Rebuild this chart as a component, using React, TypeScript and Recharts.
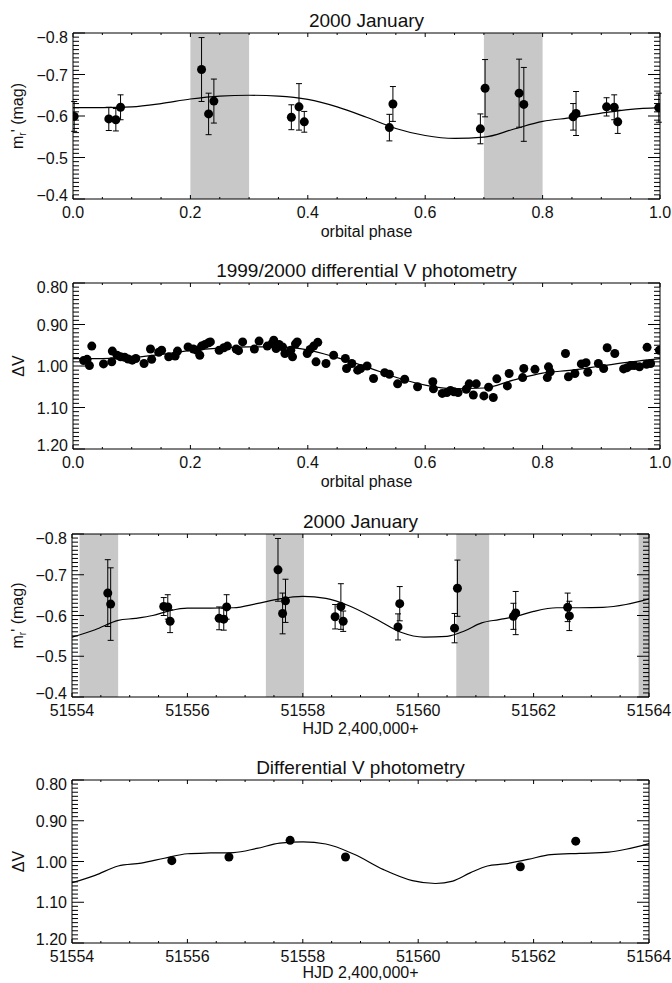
import React from 'react';
import { ComposedChart, Scatter, Line, XAxis, YAxis, ReferenceArea, ErrorBar } from 'recharts';

const FONT = '"Liberation Sans", Arial, Helvetica, sans-serif';
const INK = '#111';
const BAND = '#c8c8c8';

// ---- 2000 January r' photometry (same nights, by phase and by HJD) ----
const obsHjd = [51554.62, 51554.67, 51555.59, 51555.66, 51555.7, 51556.55, 51556.63, 51556.68, 51557.57, 51557.65, 51557.7, 51558.56, 51558.66, 51558.7, 51559.65, 51559.68, 51560.63, 51560.68, 51561.65, 51561.69, 51562.59, 51562.62];
const obsPhase = [0.76, 0.768, 0.909, 0.922, 0.928, 0.061, 0.073, 0.081, 0.219, 0.231, 0.24, 0.372, 0.385, 0.394, 0.539, 0.545, 0.694, 0.702, 0.852, 0.857, 0.998, 0.002];
const obsMag = [-0.655, -0.628, -0.622, -0.621, -0.586, -0.593, -0.591, -0.621, -0.712, -0.605, -0.636, -0.597, -0.622, -0.586, -0.572, -0.629, -0.569, -0.667, -0.598, -0.606, -0.62, -0.599];
const obsErr = [0.082, 0.089, 0.022, 0.03, 0.028, 0.028, 0.027, 0.03, 0.077, 0.05, 0.053, 0.03, 0.056, 0.025, 0.032, 0.042, 0.036, 0.069, 0.032, 0.053, 0.035, 0.036];

// model curve, folded on phase
const fitPhase = [0, 0.05, 0.1, 0.15, 0.2, 0.25, 0.3, 0.35, 0.4, 0.45, 0.5, 0.55, 0.6, 0.65, 0.7, 0.75, 0.8, 0.85, 0.9, 0.95, 1.0];
const fitPhaseMag = [-0.62, -0.62, -0.622, -0.63, -0.641, -0.648, -0.65, -0.648, -0.64, -0.622, -0.597, -0.57, -0.553, -0.546, -0.549, -0.568, -0.587, -0.596, -0.607, -0.616, -0.62];

// model curve against HJD
const fitHjd = [51554.0, 51554.4, 51554.8, 51555.1, 51555.4, 51555.7, 51556.0, 51556.4, 51556.8, 51557.2, 51557.6, 51558.0, 51558.4, 51558.8, 51559.3, 51559.7, 51560.1, 51560.5, 51560.8, 51561.1, 51561.4, 51561.7, 51562.0, 51562.4, 51562.8, 51563.2, 51563.6, 51564.0];
const fitHjdMag = [-0.547, -0.565, -0.588, -0.593, -0.6, -0.612, -0.618, -0.618, -0.619, -0.629, -0.641, -0.647, -0.642, -0.624, -0.589, -0.559, -0.547, -0.549, -0.562, -0.582, -0.59, -0.598, -0.61, -0.619, -0.619, -0.62, -0.627, -0.641];

// ---- 1999/2000 differential V, folded ----
const vPhase = [0.018, 0.024, 0.028, 0.032, 0.052, 0.066, 0.067, 0.075, 0.081, 0.088, 0.094, 0.101, 0.107, 0.121, 0.132, 0.134, 0.146, 0.151, 0.163, 0.174, 0.178, 0.196, 0.205, 0.211, 0.216, 0.219, 0.225, 0.231, 0.234, 0.249, 0.257, 0.263, 0.278, 0.282, 0.289, 0.309, 0.317, 0.331, 0.339, 0.342, 0.346, 0.351, 0.357, 0.361, 0.371, 0.374, 0.379, 0.382, 0.399, 0.404, 0.41, 0.414, 0.417, 0.431, 0.444, 0.464, 0.466, 0.475, 0.485, 0.49, 0.501, 0.512, 0.531, 0.539, 0.553, 0.565, 0.587, 0.613, 0.614, 0.629, 0.637, 0.643, 0.649, 0.656, 0.67, 0.675, 0.682, 0.687, 0.7, 0.708, 0.716, 0.722, 0.74, 0.743, 0.766, 0.768, 0.787, 0.808, 0.81, 0.813, 0.839, 0.844, 0.855, 0.866, 0.874, 0.877, 0.895, 0.904, 0.91, 0.923, 0.938, 0.944, 0.95, 0.956, 0.965, 0.977, 0.978, 0.984, 0.999];
const vDelta = [0.987, 0.984, 0.999, 0.952, 0.995, 0.99, 0.964, 0.974, 0.978, 0.979, 0.983, 0.986, 0.982, 0.994, 0.959, 0.984, 0.967, 0.962, 0.978, 0.976, 0.964, 0.954, 0.959, 0.962, 0.974, 0.952, 0.948, 0.944, 0.942, 0.962, 0.956, 0.952, 0.959, 0.963, 0.942, 0.959, 0.94, 0.952, 0.946, 0.938, 0.958, 0.948, 0.954, 0.97, 0.962, 0.978, 0.947, 0.942, 0.97, 0.96, 0.952, 0.99, 0.943, 0.994, 0.974, 0.982, 1.006, 0.994, 1.01, 1.006, 1.0, 1.03, 1.016, 1.02, 1.043, 1.032, 1.05, 1.038, 1.055, 1.066, 1.064, 1.059, 1.062, 1.064, 1.056, 1.043, 1.07, 1.043, 1.072, 1.051, 1.076, 1.031, 1.048, 1.018, 1.028, 1.006, 1.008, 1.028, 1.002, 1.014, 0.97, 1.026, 1.018, 0.995, 0.992, 1.015, 0.994, 1.006, 0.956, 0.97, 1.007, 1.004, 0.999, 0.999, 1.002, 0.996, 0.955, 0.994, 0.962];
const vFitPhase = [0, 0.05, 0.1, 0.15, 0.2, 0.25, 0.3, 0.35, 0.4, 0.45, 0.5, 0.55, 0.6, 0.65, 0.7, 0.75, 0.8, 0.85, 0.9, 0.95, 1.0];
const vFitDelta = [0.982, 0.982, 0.98, 0.972, 0.963, 0.957, 0.954, 0.954, 0.961, 0.98, 1.002, 1.027, 1.046, 1.055, 1.053, 1.034, 1.017, 1.01, 1.0, 0.99, 0.982];

// ---- differential V against HJD ----
const vHjd = [51555.73, 51556.72, 51557.78, 51558.74, 51561.77, 51562.73];
const vHjdDelta = [0.998, 0.989, 0.948, 0.989, 1.013, 0.95];
const vFitHjd = [51554.0, 51554.4, 51554.8, 51555.2, 51555.6, 51556.0, 51556.4, 51556.8, 51557.2, 51557.6, 51558.0, 51558.4, 51558.9, 51559.4, 51559.9, 51560.3, 51560.6, 51560.9, 51561.2, 51561.5, 51561.9, 51562.3, 51562.8, 51563.3, 51563.6, 51564.0];
const vFitHjdDelta = [1.052, 1.034, 1.011, 1.004, 0.992, 0.981, 0.979, 0.978, 0.968, 0.955, 0.952, 0.957, 0.983, 1.02, 1.047, 1.054, 1.048, 1.028, 1.011, 1.006, 0.995, 0.983, 0.98, 0.977, 0.97, 0.956];

// shaded phase ranges
const phaseBands: [number, number][] = [[0.2, 0.3], [0.7, 0.8]];
const hjdBands: [number, number][] = [[51554.13, 51554.8], [51557.36, 51558.02], [51560.66, 51561.23], [51563.82, 51564.0]];

// tick labels
const phaseTicks = [0, 0.2, 0.4, 0.6, 0.8, 1.0];
const hjdTicks = [51554, 51556, 51558, 51560, 51562, 51564];
const magTicks = [-0.8, -0.7, -0.6, -0.5, -0.4];
const dvTicks = [0.8, 0.9, 1.0, 1.1, 1.2];

const zip = (xs: number[], ys: number[], es?: number[]) =>
    xs.map((x, i) => (es ? { x, y: ys[i], err: es[i] } : { x, y: ys[i] }));

const steps = (min: number, max: number, step: number) => {
    const n = Math.round((max - min) / step);
    const out: number[] = [];
    for (let i = 0; i <= n; i++) out.push(Math.round((min + i * step) * 1e6) / 1e6);
    return out;
};

type Side = 'bottom' | 'top' | 'left' | 'right';

function makeTick(side: Side, majors: number[], fmt: ((v: number) => string) | null, domain: [number, number]) {
    const vertical = side === 'left' || side === 'right';
    const majorLen = vertical ? 12 : 4;
    const minorLen = vertical ? 6 : 2;
    return (props: any) => {
        const { x, y, payload } = props;
        const v = payload.value as number;
        const major = majors.some((m) => Math.abs(m - v) < 1e-6);
        const len = major ? majorLen : minorLen;
        let line;
        if (side === 'bottom') line = <line x1={x} x2={x} y1={y} y2={y - len} />;
        else if (side === 'top') line = <line x1={x} x2={x} y1={y} y2={y + len} />;
        else if (side === 'left') line = <line x1={x} x2={x + len} y1={y} y2={y} />;
        else line = <line x1={x} x2={x - len} y1={y} y2={y} />;
        let label = null;
        if (fmt && major) {
            if (side === 'bottom') {
                label = <text x={x} y={y + 19} textAnchor="middle">{fmt(v)}</text>;
            } else if (side === 'left') {
                let nudge = 0;
                if (Math.abs(v - domain[0]) < 1e-6) nudge = 4;
                if (Math.abs(v - domain[1]) < 1e-6) nudge = -4;
                label = <text x={x - 5} y={y + 6 + nudge} textAnchor="end">{fmt(v)}</text>;
            }
        }
        return (
            <g>
                <g stroke="#000" strokeWidth={1}>{line}</g>
                {label && <g fill={INK} fontSize={16} fontFamily={FONT}>{label}</g>}
            </g>
        );
    };
}

const Dot = (p: any) => <circle cx={p.cx} cy={p.cy} r={4.5} fill="#000" />;

interface Frame { top: number; bottom: number; left: number; right: number }

interface PanelProps {
    frame: Frame;
    xDomain: [number, number];
    yDomain: [number, number];
    xMajor: number[];
    xMinorStep: number;
    yMajor: number[];
    fmtX: (v: number) => string;
    fmtY: (v: number) => string;
    dots: { x: number; y: number; err?: number }[];
    fit: { x: number; y: number }[];
    bands: [number, number][];
    withErr?: boolean;
}

const AXIS = { stroke: '#000', strokeWidth: 1 };

function Panel({ frame, xDomain, yDomain, xMajor, xMinorStep, yMajor, fmtX, fmtY, dots, fit, bands, withErr }: PanelProps) {
    const plotH = frame.bottom - frame.top;
    const height = plotH + 10 + 30;
    const xTicks = steps(xDomain[0], xDomain[1], xMinorStep);
    const yTicks = steps(yDomain[0], yDomain[1], 0.01);
    return (
        <div style={{ position: 'absolute', left: 0, top: frame.top - 10 }}>
            <ComposedChart
                width={672}
                height={height}
                margin={{ top: 9, right: 672 - frame.right - 1, bottom: 0, left: 0 }}
            >
                <XAxis xAxisId="b" type="number" dataKey="x" domain={xDomain} allowDataOverflow
                    ticks={xTicks} interval={0} height={30} tickSize={0} tickMargin={0}
                    axisLine={AXIS} tickLine={false} tick={makeTick('bottom', xMajor, fmtX, xDomain)} />
                <XAxis xAxisId="t" orientation="top" type="number" dataKey="x" domain={xDomain} allowDataOverflow
                    ticks={xTicks} interval={0} height={1} tickSize={0} tickMargin={0}
                    axisLine={AXIS} tickLine={false} tick={makeTick('top', xMajor, null, xDomain)} />
                <YAxis yAxisId="l" type="number" dataKey="y" domain={yDomain} reversed allowDataOverflow
                    ticks={yTicks} interval={0} width={frame.left} tickSize={0} tickMargin={0}
                    axisLine={AXIS} tickLine={false} tick={makeTick('left', yMajor, fmtY, yDomain)} />
                <YAxis yAxisId="r" orientation="right" type="number" dataKey="y" domain={yDomain} reversed allowDataOverflow
                    ticks={yTicks} interval={0} width={1} tickSize={0} tickMargin={0}
                    axisLine={AXIS} tickLine={false} tick={makeTick('right', yMajor, null, yDomain)} />
                {bands.map(([a, b], i) => (
                    <ReferenceArea key={i} xAxisId="b" yAxisId="l" x1={a} x2={b}
                        fill={BAND} fillOpacity={1} stroke="none" ifOverflow="hidden" />
                ))}
                <Line xAxisId="t" yAxisId="r" data={fit} dataKey="y" type="monotone"
                    stroke="#000" strokeWidth={1.2} dot={false} activeDot={false} isAnimationActive={false} />
                <Scatter xAxisId="b" yAxisId="l" data={dots} fill="#000" shape={Dot} isAnimationActive={false}>
                    {withErr && (
                        <ErrorBar dataKey="err" direction="y" width={3} stroke="#000" strokeWidth={1}
                            isAnimationActive={false} />
                    )}
                </Scatter>
            </ComposedChart>
        </div>
    );
}

const F1: Frame = { top: 33, bottom: 199, left: 73, right: 660 };
const F2: Frame = { top: 283, bottom: 449, left: 73, right: 660 };
const F3: Frame = { top: 534, bottom: 697, left: 72, right: 649 };
const F4: Frame = { top: 780, bottom: 943, left: 72, right: 649 };

const fmtPhase = (v: number) => v.toFixed(1);
const fmtHjd = (v: number) => String(Math.round(v));
const fmtMag = (v: number) => (v < 0 ? '\u2212' + Math.abs(v).toFixed(1) : v.toFixed(1));
const fmtDv = (v: number) => v.toFixed(2);

function Titles() {
    const cx = (f: Frame) => (f.left + f.right) / 2;
    const cy = (f: Frame) => (f.top + f.bottom) / 2;
    const magLabel = (f: Frame) => (
        <text transform={`translate(23, ${cy(f)}) rotate(-90)`} textAnchor="middle" fontSize={16}>
            m<tspan fontSize={10} dy={3}>r</tspan><tspan dy={-3}>{"' (mag)"}</tspan>
        </text>
    );
    const dvLabel = (f: Frame) => (
        <text transform={`translate(24, ${cy(f)}) rotate(-90)`} textAnchor="middle" fontSize={16}>ΔV</text>
    );
    return (
        <svg width={672} height={983} style={{ position: 'absolute', left: 0, top: 0, pointerEvents: 'none' }}
            fontFamily={FONT} fill={INK}>
            <text x={cx(F1)} y={F1.top - 6} textAnchor="middle" fontSize={19}>2000 January</text>
            <text x={cx(F1)} y={F1.bottom + 38} textAnchor="middle" fontSize={16}>orbital phase</text>
            {magLabel(F1)}

            <text x={cx(F2)} y={F2.top - 6} textAnchor="middle" fontSize={19}>1999/2000 differential V photometry</text>
            <text x={cx(F2)} y={F2.bottom + 38} textAnchor="middle" fontSize={16}>orbital phase</text>
            {dvLabel(F2)}

            <text x={cx(F3)} y={F3.top - 6} textAnchor="middle" fontSize={19}>2000 January</text>
            <text x={cx(F3)} y={F3.bottom + 37} textAnchor="middle" fontSize={16}>HJD 2,400,000+</text>
            {magLabel(F3)}

            <text x={cx(F4)} y={F4.top - 6} textAnchor="middle" fontSize={19}>Differential V photometry</text>
            <text x={cx(F4)} y={F4.bottom + 35} textAnchor="middle" fontSize={16}>HJD 2,400,000+</text>
            {dvLabel(F4)}
        </svg>
    );
}

export default function App() {
    return (
        <div style={{ position: 'relative', width: 672, height: 983, background: '#fff', fontFamily: FONT, overflow: 'hidden' }}>
            <style>{'body{margin:0}'}</style>
            <Panel frame={F1} xDomain={[0, 1]} yDomain={[-0.8, -0.4]} xMajor={phaseTicks} xMinorStep={0.05}
                yMajor={magTicks} fmtX={fmtPhase} fmtY={fmtMag}
                dots={zip(obsPhase, obsMag, obsErr)} fit={zip(fitPhase, fitPhaseMag)} bands={phaseBands} withErr />
            <Panel frame={F2} xDomain={[0, 1]} yDomain={[0.8, 1.2]} xMajor={phaseTicks} xMinorStep={0.05}
                yMajor={dvTicks} fmtX={fmtPhase} fmtY={fmtDv}
                dots={zip(vPhase, vDelta)} fit={zip(vFitPhase, vFitDelta)} bands={[]} />
            <Panel frame={F3} xDomain={[51554, 51564]} yDomain={[-0.8, -0.4]} xMajor={hjdTicks} xMinorStep={0.5}
                yMajor={magTicks} fmtX={fmtHjd} fmtY={fmtMag}
                dots={zip(obsHjd, obsMag, obsErr)} fit={zip(fitHjd, fitHjdMag)} bands={hjdBands} withErr />
            <Panel frame={F4} xDomain={[51554, 51564]} yDomain={[0.8, 1.2]} xMajor={hjdTicks} xMinorStep={0.5}
                yMajor={dvTicks} fmtX={fmtHjd} fmtY={fmtDv}
                dots={zip(vHjd, vHjdDelta)} fit={zip(vFitHjd, vFitHjdDelta)} bands={[]} />
            <Titles />
        </div>
    );
}
